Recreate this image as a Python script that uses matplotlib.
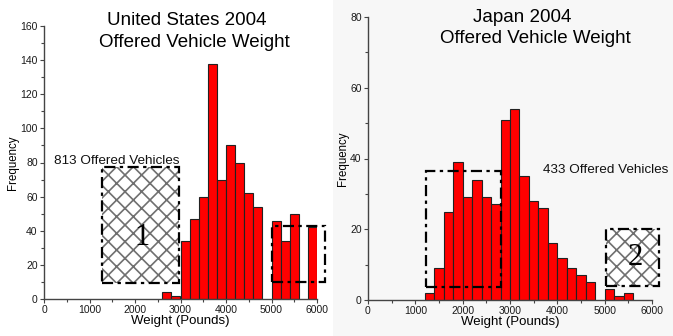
import matplotlib
matplotlib.use("Agg")
import matplotlib.pyplot as plt
from matplotlib.patches import Rectangle
from matplotlib.ticker import MultipleLocator

plt.rcParams['font.family'] = ['Liberation Sans', 'DejaVu Sans']
plt.rcParams['hatch.linewidth'] = 1.2

# histogram data, 200 lb bins (left edge of each bin)
us_bins = [2600, 2800, 3000, 3200, 3400, 3600, 3800, 4000, 4200, 4400, 4600,
           5000, 5200, 5400, 5800]
us_freq = [4, 2, 34, 47, 60, 138, 70, 90, 80, 62, 54, 46, 34, 50, 42]

jp_bins = [1200, 1400, 1600, 1800, 2000, 2200, 2400, 2600, 2800, 3000, 3200,
           3400, 3600, 3800, 4000, 4200, 4400, 4600, 5000, 5200, 5400]
jp_freq = [2, 9, 25, 39, 29, 34, 29, 27, 51, 54, 35, 28, 26, 16, 12, 9, 7, 5,
           3, 1, 2]

bin_width = 200
us_title = ["United States 2004", "Offered Vehicle Weight"]
jp_title = ["Japan 2004", "Offered Vehicle Weight"]
us_count = "813 Offered Vehicles"
jp_count = "433 Offered Vehicles"

bg_right = '#f7f7f7'
dashdot = (0, (5, 2, 1.5, 2))

fig = plt.figure(figsize=(6.73, 3.36), dpi=100)
fig.patches.append(Rectangle((333 / 673, 0), 1 - 333 / 673, 1, transform=fig.transFigure,
                             facecolor=bg_right, edgecolor='none', zorder=-10))

ax1 = fig.add_axes([44 / 673, 37 / 336, 273 / 673, 273 / 336])
ax2 = fig.add_axes([368 / 673, 36 / 336, 284 / 673, 283 / 336])
ax2.set_facecolor(bg_right)


def style_axis(ax, ymax, ymajor, yminor):
    ax.set_xlim(0, 6000)
    ax.set_ylim(0, ymax)
    ax.xaxis.set_major_locator(MultipleLocator(1000))
    ax.xaxis.set_minor_locator(MultipleLocator(500))
    ax.yaxis.set_major_locator(MultipleLocator(ymajor))
    ax.yaxis.set_minor_locator(MultipleLocator(yminor))
    for side in ['top', 'right']:
        ax.spines[side].set_visible(False)
    for side in ['left', 'bottom']:
        ax.spines[side].set_color('#444444')
        ax.spines[side].set_linewidth(1.0)
    ax.tick_params(which='major', length=3, width=0.8, color='#444444',
                   labelsize=7.5, labelcolor='#1a1a1a', pad=1.5)
    ax.tick_params(which='minor', length=2, width=0.8, color='#444444')
    ax.set_xlabel("Weight (Pounds)", fontsize=9.5, labelpad=0)
    ax.set_ylabel("Frequency", fontsize=8.3, labelpad=1)


def hatched_box(ax, x0, x1, y0, y1):
    ax.add_patch(Rectangle((x0, y0), x1 - x0, y1 - y0, facecolor='white',
                           edgecolor='#707070', hatch='xx', linewidth=0,
                           clip_on=False, zorder=3))
    ax.add_patch(Rectangle((x0, y0), x1 - x0, y1 - y0, fill=False,
                           edgecolor='black', linewidth=1.6, linestyle=dashdot,
                           clip_on=False, zorder=4))


def dash_box(ax, x0, x1, y0, y1):
    ax.add_patch(Rectangle((x0, y0), x1 - x0, y1 - y0, fill=False,
                           edgecolor='black', linewidth=1.6, linestyle=dashdot,
                           clip_on=False, zorder=4))


def two_line_title(lines, x1, x2, y1, y2):
    fig.text(x1 / 673, 1 - y1 / 336, lines[0], fontsize=13.5, ha='center', va='baseline')
    fig.text(x2 / 673, 1 - y2 / 336, lines[1], fontsize=13.5, ha='center', va='baseline')


# United States
ax1.bar(us_bins, us_freq, width=bin_width, align='edge', color='#ff0000',
        edgecolor='#222222', linewidth=0.8, zorder=2)
style_axis(ax1, 160, 20, 10)
hatched_box(ax1, 1280, 2965, 9.5, 77.5)
ax1.text(2150, 36, "1", family=['Liberation Serif'], fontsize=22,
         ha='center', va='center', zorder=5)
ax1.text(1590, 79, us_count, fontsize=9.7, ha='center', va='baseline', color='#111111')
dash_box(ax1, 5020, 6170, 10, 43)
two_line_title(us_title, 187, 194, 25, 47)

# Japan
ax2.bar(jp_bins, jp_freq, width=bin_width, align='edge', color='#ff0000',
        edgecolor='#222222', linewidth=0.8, zorder=2)
style_axis(ax2, 80, 20, 10)
dash_box(ax2, 1235, 2800, 3.8, 36.5)
hatched_box(ax2, 5035, 6140, 4, 20)
ax2.text(5640, 12, "2", family=['Liberation Serif'], fontsize=22,
         ha='center', va='center', zorder=5)
ax2.text(3700, 36, jp_count, fontsize=9.7, ha='left', va='baseline',
         color='#111111', clip_on=False)
two_line_title(jp_title, 522, 535, 22, 43)

fig.savefig("out.png", dpi=100)
